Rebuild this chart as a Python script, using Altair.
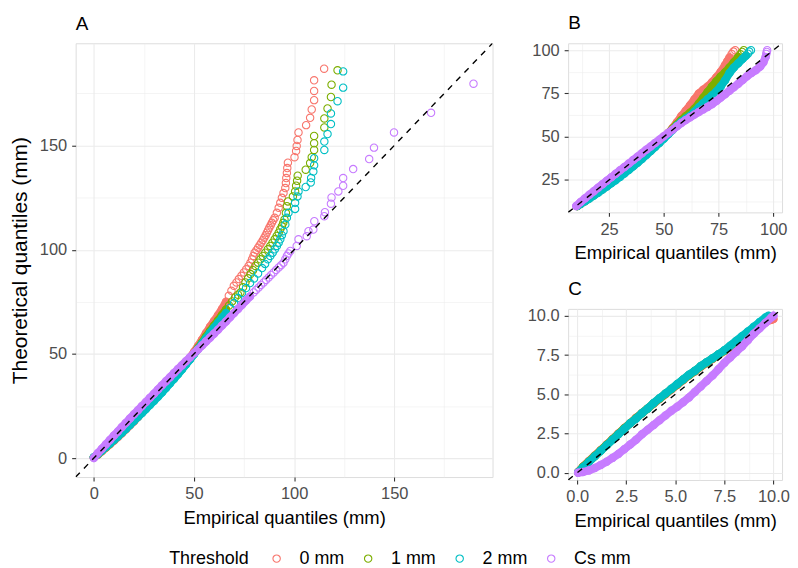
import json
import altair as alt
import pandas as pd

SERIES = ["0 mm", "1 mm", "2 mm", "Cs mm"]
COLORS = ["#F8766D", "#7CAE00", "#00BFC4", "#C77CFF"]
FONT = "Liberation Sans"

# ---------------- Panel A (x = empirical, y = theoretical) ----------------
A_DOMAIN = [-9.1, 199.1]
A_MAJOR = [0, 50, 100, 150]
A_MINOR = [25, 75, 125, 175]

A_0MM_BAND = [(0.0, 0.3), (2, 1.6), (4, 3.3), (6, 5.0), (8, 6.6), (10, 8.3), (12, 10.1), (14, 11.9),
              (16, 13.8), (18, 15.7), (20, 17.6), (22, 19.7), (24, 21.8), (26, 23.8), (28, 25.9),
              (30, 27.9), (32, 30.0), (34, 32.1), (36, 34.3), (38, 36.5), (40, 38.6), (42, 40.9),
              (44, 43.2), (46, 45.6), (48, 48.2), (50, 50.9), (52, 53.8), (54, 56.8), (56, 60.0),
              (58, 63.0), (60, 65.8), (62, 68.6), (64, 71.6), (66, 75.0)]
A_0MM_TAIL = [(67.4, 77.9), (68.7, 80.3), (69.9, 82.7), (71.2, 84.3), (72.4, 85.9), (73.7, 87.5),
              (74.9, 89.1), (76.1, 90.6), (77.3, 92.2), (78.2, 93.8), (79.0, 95.4), (79.7, 97.0),
              (80.3, 98.6), (81.2, 99.8), (82.0, 101.0), (82.8, 102.2), (83.6, 103.4), (84.4, 104.6),
              (85.1, 105.8), (85.8, 107.0), (86.4, 108.2), (87.0, 109.4), (87.6, 110.5), (88.3, 111.7),
              (88.9, 112.9), (89.6, 114.1), (90.3, 115.3), (91.4, 117.7), (92.3, 120.1), (93.1, 122.5),
              (93.9, 124.9), (94.7, 127.2), (95.6, 129.6), (95.9, 132.0), (96.1, 134.4), (96.4, 136.8),
              (96.6, 139.2), (96.9, 141.8), (100.2, 144.4), (101.0, 147.4), (101.3, 149.8),
              (101.7, 152.7), (102.2, 156.3), (106.0, 159.8), (108.0, 163.3), (108.8, 167.3),
              (110.0, 171.8), (110.0, 176.2), (110.0, 181.3), (115.0, 186.9)]

A_1MM_BAND = [(0, 0.3), (2, 1.8), (4, 3.5), (6, 5.2), (8, 6.9), (10, 8.7), (12, 10.5), (14, 12.3),
              (16, 14.2), (18, 16.1), (20, 18.0), (22, 20.0), (24, 22.0), (26, 24.0), (28, 26.0),
              (30, 28.0), (32, 30.1), (34, 32.2), (36, 34.3), (38, 36.4), (40, 38.6), (42, 40.8),
              (44, 43.0), (46, 45.3), (48, 47.7), (50, 50.2), (52, 52.8), (54, 55.5), (56, 58.3),
              (58, 61.0), (60, 63.6), (62, 66.1), (64, 68.7), (66, 71.3)]
A_1MM_TAIL = [(67.5, 73.2), (69.0, 75.2), (70.5, 77.1), (72.0, 78.4), (73.2, 79.5), (74.5, 82.0),
              (75.7, 84.3), (77.0, 86.3), (78.2, 88.3), (79.5, 90.2), (80.7, 92.2), (82.0, 93.8),
              (83.2, 95.4), (84.4, 97.0), (85.6, 98.6), (86.9, 100.2), (88.1, 101.8), (89.2, 103.4),
              (90.3, 105.0), (91.3, 106.6), (92.3, 108.2), (93.1, 109.8), (93.9, 111.3), (94.6, 112.9),
              (95.2, 114.5), (95.9, 117.7), (96.4, 120.9), (96.9, 123.2), (99.4, 125.6), (100.5, 128.0),
              (101.0, 130.7), (101.5, 133.1), (101.8, 135.5), (105.8, 138.4), (108.0, 141.6),
              (108.8, 144.4), (110.0, 147.9), (110.0, 151.1), (110.0, 154.6), (115.1, 158.7),
              (115.1, 163.0), (116.7, 167.8), (118.4, 173.3), (118.7, 179.2), (121.7, 186.1)]

A_2MM_BAND = [(0, 0.4), (2, 1.9), (4, 3.6), (6, 5.3), (8, 7.0), (10, 8.7), (12, 10.4), (14, 12.2),
              (16, 14.0), (18, 15.9), (20, 17.8), (22, 19.7), (24, 21.6), (26, 23.5), (28, 25.5),
              (30, 27.4), (32, 29.4), (34, 31.5), (36, 33.6), (38, 35.8), (40, 38.0), (42, 40.2),
              (44, 42.5), (46, 44.9), (48, 47.3), (50, 49.8), (52, 52.3), (54, 54.9), (56, 57.5),
              (58, 60.1), (60, 62.6), (62, 65.0), (64, 67.3), (66, 69.6)]
A_2MM_TAIL = [(68, 72.0), (70, 74.4), (72, 76.8), (74, 79.2), (76, 81.6), (78, 84.0), (80, 86.2),
              (82, 88.6), (84, 91.2), (85.5, 93.2), (86.9, 95.4), (88.1, 97.0), (89.3, 98.6),
              (90.4, 100.2), (91.4, 101.8), (92.3, 103.4), (93.1, 105.0), (93.9, 107.0), (94.7, 108.9),
              (95.6, 112.1), (96.4, 115.3), (97.2, 117.7), (100.5, 119.6), (100.5, 122.5),
              (101.7, 125.6), (102.2, 128.0), (105.8, 130.1), (108.3, 132.3), (108.5, 134.4),
              (109.6, 137.5), (110.0, 140.5), (110.0, 143.9), (115.1, 147.9), (115.1, 151.9),
              (116.7, 155.5), (118.4, 160.3), (118.4, 165.4), (121.7, 171.3), (124.5, 177.8),
              (124.5, 185.6)]

A_CS_BAND = [(0, 0.0), (2, 2.4), (4, 4.5), (6, 6.6), (8, 8.7), (10, 10.8), (12, 12.8), (14, 14.9),
             (16, 16.9), (18, 19.0), (20, 21.0), (22, 23.0), (24, 25.0), (26, 26.9), (28, 28.9),
             (30, 30.9), (32, 32.9), (34, 34.9), (36, 36.9), (38, 38.8), (40, 40.8), (42, 42.7),
             (44, 44.6), (46, 46.5), (48, 48.4), (50, 50.3), (52, 52.1), (54, 54.0), (56, 55.9),
             (58, 57.8), (60, 59.7), (62, 61.6), (64, 63.6), (66, 65.6), (68, 67.6), (70, 69.6),
             (72, 71.6), (74, 73.6), (76, 75.6), (78, 77.6)]
A_CS_TAIL = [(79.8, 79.5), (81.0, 80.7), (82.3, 81.9), (83.5, 83.1), (84.8, 84.3), (86.0, 85.5),
             (87.3, 86.7), (88.5, 87.9), (89.8, 89.1), (91.0, 90.3), (92.3, 91.5), (93.5, 92.6),
             (94.7, 93.8), (95.6, 95.4), (96.4, 97.0), (97.2, 98.2), (98.1, 99.4), (101.3, 101.8),
             (102.2, 105.0), (106.3, 106.5), (107.2, 108.9), (109.6, 109.7), (110.1, 113.7),
             (115.1, 116.1), (115.4, 118.0), (118.4, 122.1), (118.7, 125.1), (122.1, 128.0),
             (124.5, 130.7), (124.5, 134.4), (129.5, 138.7), (137.5, 143.5), (139.9, 149.0),
             (149.9, 156.3), (168.4, 165.7), (189.6, 179.7)]

# ---------------- Panel B ----------------
B_DOMAIN = [6.3, 104.0]
B_MAJOR = [25, 50, 75, 100]
B_MINOR = [12.5, 37.5, 62.5, 87.5]

B_0MM_BAND = [(10.5, 10.0), (12, 11.2), (14, 12.8), (16, 14.5), (18, 16.2), (20, 17.9), (22, 19.7),
              (24, 21.5), (26, 23.4), (28, 25.3), (30, 27.2), (32, 29.2), (34, 31.2), (36, 33.2),
              (38, 35.3), (40, 37.5), (42, 39.7), (44, 42.0), (46, 44.3), (48, 46.8), (50, 49.4),
              (52, 52.1), (54, 55.0), (56, 58.4), (58, 62.0), (60, 65.0), (62, 68.2), (64, 71.6),
              (66, 75.0), (68, 77.2), (70, 79.0), (72, 81.5), (74, 84.3), (76, 87.5), (78, 91.5),
              (79, 93.6), (80, 95.8)]
B_0MM_TAIL = [(81.0, 97.8), (81.8, 99.2), (82.6, 100.0)]

B_1MM_BAND = [(10.5, 10.0), (12, 11.3), (14, 13.0), (16, 14.7), (18, 16.5), (20, 18.3), (22, 20.1),
              (24, 22.0), (26, 23.9), (28, 25.8), (30, 27.7), (32, 29.7), (34, 31.7), (36, 33.7),
              (38, 35.8), (40, 37.9), (42, 40.1), (44, 42.4), (46, 44.7), (48, 47.1), (50, 49.6),
              (52, 52.0), (54, 54.6), (56, 57.2), (58, 59.6), (60, 61.8), (62, 63.9), (64, 66.2),
              (66, 69.2), (68, 72.5), (70, 75.8), (72, 79.0), (74, 82.0), (76, 84.8), (78, 87.2),
              (80, 90.0), (82, 93.0), (84, 96.0)]
B_1MM_TAIL = [(85.0, 97.6), (85.8, 99.0), (86.5, 100.0)]

B_2MM_BAND = [(10.5, 10.0), (12, 11.2), (14, 12.7), (16, 14.3), (18, 16.0), (20, 17.7), (22, 19.5),
              (24, 21.3), (26, 23.1), (28, 24.9), (30, 26.8), (32, 28.8), (34, 30.8), (36, 32.9),
              (38, 35.0), (40, 37.2), (42, 39.4), (44, 41.7), (46, 44.0), (48, 46.4), (50, 48.9),
              (52, 51.4), (54, 53.9), (56, 56.4), (58, 58.6), (60, 60.4), (62, 62.0), (64, 64.5),
              (66, 67.0), (68, 69.4), (70, 71.6), (72, 73.8), (74, 76.2), (76, 79.0), (78, 82.6),
              (80, 86.8), (82, 90.0), (84, 92.5), (86, 95.0), (87.5, 96.8)]
B_2MM_TAIL = [(88.4, 98.0), (89.0, 99.2), (89.8, 100.0)]

B_CS_BAND = [(10, 10.0), (12, 12.3), (14, 14.4), (16, 16.5), (18, 18.5), (20, 20.6), (22, 22.6),
             (24, 24.6), (26, 26.6), (28, 28.6), (30, 30.6), (32, 32.5), (34, 34.5), (36, 36.5),
             (38, 38.5), (40, 40.5), (42, 42.5), (44, 44.4), (46, 46.4), (48, 48.3), (50, 50.3),
             (52, 52.2), (54, 54.1), (56, 56.0), (58, 57.9), (60, 59.6), (62, 61.2), (64, 62.8),
             (66, 64.3), (68, 65.8), (70, 67.2), (72, 68.8), (74, 70.6), (76, 72.6), (78, 74.6),
             (80, 76.6), (82, 78.6), (84, 80.6), (86, 82.8), (88, 85.0), (90, 86.8), (92, 88.4),
             (94, 90.5), (95.5, 93.0), (96.5, 96.0)]
B_CS_TAIL = [(96.8, 97.8), (97.0, 99.0), (97.2, 100.0)]

# ---------------- Panel C ----------------
C_DOMAIN = [-0.46, 10.44]
C_MAJOR = [0, 2.5, 5, 7.5, 10]
C_MINOR = [1.25, 3.75, 6.25, 8.75]

C_0MM_BAND = [(0.05, 0.05), (0.3, 0.4), (0.6, 0.75), (0.9, 1.1), (1.2, 1.45), (1.5, 1.8), (1.8, 2.15),
              (2.1, 2.5), (2.4, 2.85), (2.7, 3.15), (3.0, 3.5), (3.3, 3.8), (3.6, 4.1), (3.9, 4.4),
              (4.2, 4.7), (4.5, 5.0), (4.8, 5.3), (5.1, 5.6), (5.4, 5.9), (5.7, 6.2), (6.0, 6.45),
              (6.3, 6.75), (6.6, 7.0), (6.9, 7.25), (7.2, 7.5), (7.5, 7.75), (7.8, 8.0), (8.1, 8.3),
              (8.4, 8.55), (8.7, 8.85), (9.0, 9.1), (9.3, 9.35), (9.6, 9.6), (9.9, 9.75), (10.0, 9.8)]
C_1MM_BAND = [(0.05, 0.04), (0.3, 0.38), (0.6, 0.72), (0.9, 1.07), (1.2, 1.42), (1.5, 1.77),
              (1.8, 2.12), (2.1, 2.47), (2.4, 2.82), (2.7, 3.15), (3.0, 3.47), (3.3, 3.8), (3.6, 4.1),
              (3.9, 4.43), (4.2, 4.73), (4.5, 5.03), (4.8, 5.33), (5.1, 5.63), (5.4, 5.93),
              (5.7, 6.22), (6.0, 6.48), (6.3, 6.78), (6.6, 7.03), (6.9, 7.28), (7.2, 7.53),
              (7.5, 7.78), (7.8, 8.06), (8.1, 8.36), (8.4, 8.64), (8.7, 8.94), (9.0, 9.22),
              (9.3, 9.5), (9.6, 9.8), (9.8, 9.95)]
C_2MM_BAND = [(0.05, 0.03), (0.3, 0.35), (0.6, 0.7), (0.9, 1.05), (1.2, 1.4), (1.5, 1.75), (1.8, 2.1),
              (2.1, 2.45), (2.4, 2.8), (2.7, 3.15), (3.0, 3.45), (3.3, 3.8), (3.6, 4.1), (3.9, 4.45),
              (4.2, 4.75), (4.5, 5.05), (4.8, 5.35), (5.1, 5.65), (5.4, 5.95), (5.7, 6.25), (6.0, 6.5),
              (6.3, 6.8), (6.6, 7.05), (6.9, 7.3), (7.2, 7.55), (7.5, 7.8), (7.8, 8.1), (8.1, 8.4),
              (8.4, 8.7), (8.7, 9.0), (9.0, 9.3), (9.3, 9.6), (9.6, 9.9), (9.75, 10.0)]
C_CS_BAND = [(0.05, 0.0), (0.3, 0.05), (0.6, 0.15), (0.9, 0.3), (1.2, 0.5), (1.5, 0.7), (1.8, 0.95),
             (2.1, 1.2), (2.4, 1.5), (2.7, 1.8), (3.0, 2.1), (3.3, 2.45), (3.6, 2.75), (3.9, 3.05),
             (4.2, 3.35), (4.5, 3.65), (4.8, 3.95), (5.1, 4.2), (5.4, 4.5), (5.7, 4.8), (6.0, 5.15),
             (6.3, 5.5), (6.6, 5.85), (6.9, 6.2), (7.2, 6.6), (7.5, 7.0), (7.8, 7.35), (8.1, 7.7),
             (8.4, 8.05), (8.7, 8.45), (9.0, 8.85), (9.3, 9.2), (9.6, 9.55), (9.9, 9.9), (10.0, 10.0)]

PANELS = {
    "A": {"0 mm": (A_0MM_BAND, A_0MM_TAIL), "1 mm": (A_1MM_BAND, A_1MM_TAIL),
          "2 mm": (A_2MM_BAND, A_2MM_TAIL), "Cs mm": (A_CS_BAND, A_CS_TAIL)},
    "B": {"0 mm": (B_0MM_BAND, B_0MM_TAIL), "1 mm": (B_1MM_BAND, B_1MM_TAIL),
          "2 mm": (B_2MM_BAND, B_2MM_TAIL), "Cs mm": (B_CS_BAND, B_CS_TAIL)},
    "C": {"0 mm": (C_0MM_BAND, []), "1 mm": (C_1MM_BAND, []),
          "2 mm": (C_2MM_BAND, []), "Cs mm": (C_CS_BAND, [])},
}


def frame(pts, series, part):
    return pd.DataFrame({"x": [p[0] for p in pts], "y": [p[1] for p in pts],
                         "series": series, "part": part})


LEGEND = alt.Legend(
    title="Threshold", orient="none", direction="horizontal", legendX=94, legendY=509,
    titleOrient="left", titleFontSize=18, titleFont=FONT, titleFontWeight="normal",
    titleColor="#000000", titlePadding=18, titleBaseline="middle",
    labelFontSize=18, labelFont=FONT, labelColor="#000000", labelOffset=14,
    symbolType="circle", symbolSize=55, symbolStrokeWidth=1.1, columnPadding=15,
    symbolFillColor="transparent",
)


def axis(title, major, minor, fmt, title_size=18.5, pad=5, title_pad=6):
    vals = sorted(major + minor)
    is_major = "indexof(%s, datum.value) >= 0" % json.dumps(major)
    return alt.Axis(
        title=title if title else "",
        values=vals, format=fmt, labelExpr="%s ? datum.label : ''" % is_major,
        labelOverlap=False, labelFlush=False, domain=False,
        gridColor="#EBEBEB",
        gridWidth={"condition": {"test": is_major, "value": 1.1}, "value": 0.55},
        tickOpacity={"condition": {"test": is_major, "value": 1}, "value": 0},
        tickColor="#333333", tickSize=4, tickWidth=1.1,
        labelColor="#4D4D4D", labelFontSize=16.5, labelFont=FONT, labelPadding=pad,
        titleFontSize=title_size, titleFont=FONT, titleColor="#000000", titleFontWeight="normal",
        titlePadding=title_pad,
    )


def panel(name, domain, major, minor, fmt, w, h, ytitle):
    sc = alt.Scale(domain=domain, nice=False, zero=False)
    xax = axis("Empirical quantiles (mm)", major, minor, fmt, pad=5)
    yax = axis(ytitle, major, minor, fmt, title_size=21, pad=5, title_pad=9)
    layers = []
    for s, col in zip(SERIES, COLORS):
        band, tail = PANELS[name][s]
        bdf = frame(band, s, "band")
        alldf = pd.concat([bdf, frame(tail, s, "tail")], ignore_index=True) if tail else bdf
        layers.append(
            alt.Chart(bdf).mark_line(strokeWidth=8, strokeCap="round", strokeJoin="round",
                                      color=col, clip=True)
            .encode(x=alt.X("x:Q", scale=sc, axis=xax), y=alt.Y("y:Q", scale=sc, axis=yax))
        )
        layers.append(
            alt.Chart(alldf).mark_point(shape="circle", filled=False, size=55, strokeWidth=1.1,
                                        opacity=1, clip=True)
            .encode(x=alt.X("x:Q", scale=sc, axis=xax), y=alt.Y("y:Q", scale=sc, axis=yax),
                    color=alt.Color("series:N", scale=alt.Scale(domain=SERIES, range=COLORS),
                                    legend=LEGEND))
        )
    ab = pd.DataFrame({"x": domain, "y": domain})
    layers.append(
        alt.Chart(ab).mark_line(color="black", strokeDash=[6, 6], strokeWidth=1.4, clip=True)
        .encode(x=alt.X("x:Q", scale=sc, axis=xax), y=alt.Y("y:Q", scale=sc, axis=yax))
    )
    return alt.layer(*layers).properties(
        width=w, height=h,
        title=alt.TitleParams(name, anchor="start", frame="group", fontSize=19, font=FONT,
                              fontWeight="normal", color="#000000", offset=9),
    )


pa = panel("A", A_DOMAIN, A_MAJOR, A_MINOR, "d", 419, 436, "Theoretical quantiles (mm)")
pb = panel("B", B_DOMAIN, B_MAJOR, B_MINOR, "d", 215, 170, None)
pc = panel("C", C_DOMAIN, C_MAJOR, C_MINOR, ".1f", 215, 172, None)

chart = alt.hconcat(pa, alt.vconcat(pb, pc, spacing=16), spacing=33).properties(
    padding={"left": 0, "top": 4, "right": 0, "bottom": 0}
).configure_view(stroke="#333333", strokeWidth=1.1).configure(font=FONT)

chart.save("out.html", embed_options={"renderer": "svg", "actions": False})
